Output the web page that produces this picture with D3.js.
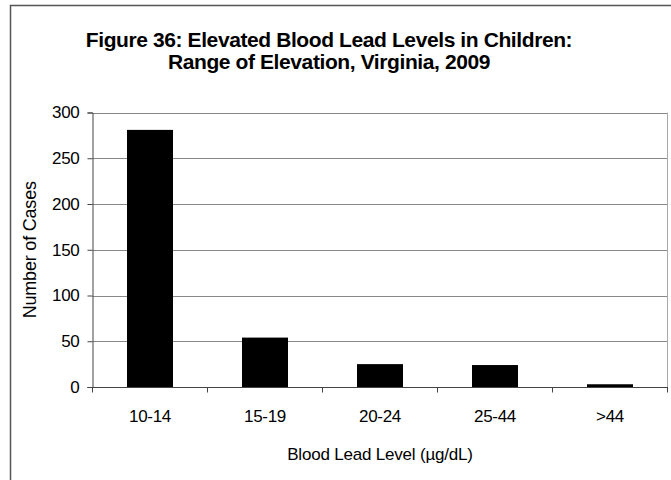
<!DOCTYPE html>
<html>
<head>
<meta charset="utf-8">
<script src="https://cdn.jsdelivr.net/npm/d3@7"></script>
<style>
  html, body { margin: 0; padding: 0; background: #fff; }
  svg { display: block; font-family: "Liberation Sans", Arial, sans-serif; }
</style>
</head>
<body>
<div id="chart"></div>
<script>
// Elevated blood lead levels in children, Virginia 2009
const categories = ["10-14", "15-19", "20-24", "25-44", ">44"];
const cases = [281, 54, 25, 24, 3];
const yTicks = [0, 50, 100, 150, 200, 250, 300];

const W = 671, H = 480;
const plot = { left: 92.5, right: 667.5, top: 112.5, bottom: 387 };
const FONT = "Liberation Sans, Arial, sans-serif";

const svg = d3.select("#chart").append("svg")
  .attr("width", W).attr("height", H);

// outer chart frame (top and left edges)
svg.append("path")
  .attr("d", `M10.5,${H} V5.5 H${W}`)
  .attr("fill", "none").attr("stroke", "#555").attr("stroke-width", 1.5);

// title
const title = svg.append("text")
  .attr("text-anchor", "middle")
  .attr("font-weight", "bold").attr("font-size", 21)
  .attr("letter-spacing", -0.4).attr("fill", "#000");
title.append("tspan").attr("x", 329).attr("y", 47)
  .text("Figure 36: Elevated Blood Lead Levels in Children:");
title.append("tspan").attr("x", 329).attr("y", 69)
  .text("Range of Elevation, Virginia, 2009");

const x = d3.scaleBand().domain(categories)
  .range([plot.left, plot.right]).paddingInner(0).paddingOuter(0);
const y = d3.scaleLinear().domain([0, 300]).range([plot.bottom, plot.top]);

// gridlines
svg.append("g").selectAll("line").data(yTicks.filter(d => d > 0)).join("line")
  .attr("x1", plot.left).attr("x2", plot.right)
  .attr("y1", d => Math.round(y(d)) + 0.5).attr("y2", d => Math.round(y(d)) + 0.5)
  .attr("stroke", "#888").attr("stroke-width", 1);

// right edge of plot area
svg.append("line")
  .attr("x1", plot.right).attr("x2", plot.right)
  .attr("y1", plot.top).attr("y2", plot.bottom + 5)
  .attr("stroke", "#aaa").attr("stroke-width", 1);

// bars (Excel-style gap width 150%)
const barW = x.bandwidth() / 2.5;
svg.append("g").selectAll("rect").data(categories).join("rect")
  .attr("x", (d) => x(d) + (x.bandwidth() - barW) / 2)
  .attr("width", barW)
  .attr("y", (d, i) => y(cases[i]))
  .attr("height", (d, i) => y(0) - y(cases[i]))
  .attr("fill", "#000");

// y axis
const yAxis = svg.append("g")
  .attr("transform", `translate(${plot.left},0)`)
  .call(d3.axisLeft(y).tickValues(yTicks).tickSize(5).tickPadding(8));
yAxis.select(".domain").attr("stroke", "#444");
yAxis.selectAll(".tick line").attr("stroke", "#444");
yAxis.selectAll(".tick text").attr("font-size", 17).attr("fill", "#000")
  .attr("font-family", FONT).attr("letter-spacing", -0.3);

// x axis: ticks at category boundaries
const xAxis = svg.append("g").attr("transform", `translate(0,${plot.bottom})`);
xAxis.append("line").attr("x1", plot.left - 5).attr("x2", plot.right)
  .attr("y1", 0.5).attr("y2", 0.5).attr("stroke", "#444");
const bounds = categories.map(c => x(c)).concat([plot.right]);
xAxis.selectAll(".bt").data(bounds).join("line").attr("class", "bt")
  .attr("x1", d => d).attr("x2", d => d).attr("y1", 0).attr("y2", 5.5)
  .attr("stroke", "#444");
xAxis.selectAll(".lbl").data(categories).join("text").attr("class", "lbl")
  .attr("x", d => x(d) + x.bandwidth() / 2).attr("y", 35)
  .attr("text-anchor", "middle").attr("font-size", 17).attr("fill", "#000")
  .attr("letter-spacing", -0.3)
  .text(d => d);

// axis titles
svg.append("text")
  .attr("transform", `translate(36,${(plot.top + plot.bottom) / 2}) rotate(-90)`)
  .attr("text-anchor", "middle").attr("font-size", 18).attr("fill", "#000")
  .attr("letter-spacing", -0.2)
  .text("Number of Cases");
svg.append("text")
  .attr("x", x("20-24") + x.bandwidth() / 2).attr("y", 460)
  .attr("text-anchor", "middle").attr("font-size", 17).attr("fill", "#000")
  .attr("letter-spacing", -0.2)
  .text("Blood Lead Level (µg/dL)");
</script>
</body>
</html>
